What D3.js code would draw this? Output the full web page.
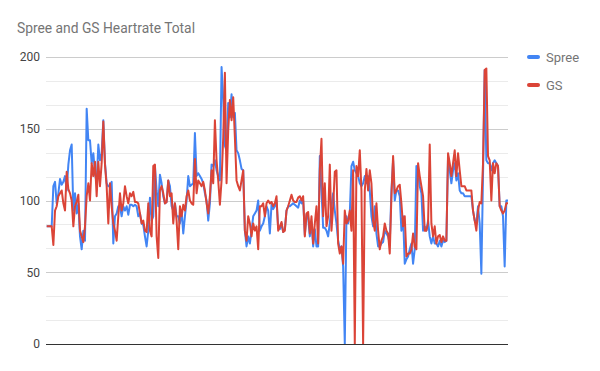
<!DOCTYPE html>
<html><head><meta charset="utf-8">
<script src="https://cdn.jsdelivr.net/npm/d3@7"></script>
<style>body{margin:0;background:#fff}svg{display:block;font-family:Roboto,Arial,sans-serif}</style>
</head><body><svg id="c" width="600" height="371"></svg>
<script>
const title = "Spree and GS Heartrate Total";
const seriesNames = ["Spree", "GS"];
const yTicks = [0, 50, 100, 150, 200];

const spree = [
82,82,82,82,110,113,98,105,115,111,113,117,107,125,135,139,93,105,91,98,75,66,79,72,164,142,142,126,133,119,112,139,128,133,156,126,112,110,110,113,70,89,91,96,96,89,96,93,96,90,97,97,96,97,96,89,91,84,83,75,68,79,102,86,89,124,107,96,
118,112,103,98,99,114,110,96,93,98,89,89,84,93,77,89,100,117,110,111,112,147,117,119,117,115,112,105,100,86,98,125,124,128,121,117,114,193,170,138,135,168,158,174,158,161,135,133,128,122,121,79,68,75,70,79,89,91,93,100,79,82,84,89,96,93,77,
97,94,96,100,81,80,84,78,80,93,96,96,97,98,97,96,95,100,98,100,76,90,88,75,85,68,80,68,68,131,107,81,81,79,75,84,96,105,93,84,72,66,68,54,0,89,84,91,124,127,121,119,117,112,110,112,117,112,117,107,89,82,96,77,68,68,
70,71,79,77,75,70,107,128,100,107,107,103,79,89,56,59,61,66,70,56,66,124,121,110,105,79,82,79,86,75,70,75,70,70,68,72,68,72,71,72,131,121,112,121,126,114,119,107,105,105,103,103,103,103,103,93,86,84,96,84,49,117,191,128,126,126,121,126,128,126,124,96,96,89,54,100,100
];
const gs = [
82,82,82,82,69,93,96,103,105,107,98,93,120,108,105,100,82,96,99,104,79,75,71,82,103,112,100,126,117,127,103,127,110,126,155,125,110,84,112,96,84,79,72,89,105,93,98,110,103,98,105,103,106,99,99,98,91,84,86,79,78,98,79,75,124,125,75,60,
107,110,105,98,99,114,103,105,84,98,86,66,96,89,97,93,103,107,100,98,97,129,105,114,112,110,113,107,98,91,103,121,112,156,128,114,97,114,144,189,112,149,170,156,172,144,114,110,107,114,121,79,72,89,84,75,84,79,82,66,96,96,98,89,98,100,98,
99,96,98,103,79,82,85,78,79,93,96,100,104,100,99,99,102,103,100,103,75,91,92,77,89,70,84,96,70,121,143,89,112,82,89,125,79,96,120,121,70,63,68,56,93,84,86,93,79,121,0,124,117,135,107,0,107,122,107,121,112,86,79,98,79,66,
72,75,84,79,77,63,103,131,105,107,110,111,98,82,89,61,63,63,66,77,68,66,126,117,110,103,79,79,84,139,84,75,82,70,75,76,71,75,72,72,133,126,117,126,135,117,133,121,110,110,110,107,107,107,107,93,86,79,93,99,98,126,191,192,131,128,100,126,119,126,124,96,93,91,93,98,98
];
const colors = ["#4285F4", "#DB4437"];

const svg = d3.select("#c");
const L = 46, R = 508, T = 57, B = 344;
const n = Math.min(spree.length, gs.length);
const idx = d3.range(n);
const x = d3.scalePoint().domain(idx).range([L + 0.7, R]);
const y = d3.scaleLinear().domain([0, 200]).range([B, T]);

const minor = d3.range(0, 201, 200 / 12);
svg.append("g").selectAll("line").data(minor).join("line")
  .attr("x1", L).attr("x2", R)
  .attr("y1", d => Math.round(y(d)) + 0.5).attr("y2", d => Math.round(y(d)) + 0.5)
  .attr("stroke", d => yTicks.some(t => Math.abs(t - d) < 0.01) ? "#cccccc" : "#ebebeb")
  .attr("stroke-width", 1);

const yAxis = d3.axisLeft(y).tickValues(yTicks).tickSize(0).tickPadding(6);
const ga = svg.append("g").attr("transform", `translate(${L},0)`).call(yAxis);
ga.select(".domain").remove();
ga.selectAll("text").attr("font-size", 12).attr("fill", "#444").attr("font-family", "Roboto, Arial, sans-serif");

const line = d3.line().x((d, i) => x(i)).y(d => y(d));
[spree, gs].forEach((s, k) => {
  svg.append("path").datum(s.slice(0, n)).attr("d", line)
    .attr("fill", "none").attr("stroke", colors[k]).attr("stroke-width", 2)
    .attr("stroke-linejoin", "round");
});

svg.append("line").attr("x1", L).attr("x2", R).attr("y1", B + 0.5).attr("y2", B + 0.5)
  .attr("stroke", "#333").attr("stroke-width", 1);

svg.append("text").attr("x", 17).attr("y", 33).text(title)
  .attr("font-size", 15).attr("textLength", 178).attr("lengthAdjust", "spacingAndGlyphs")
  .attr("fill", "#757575");

const lg = svg.append("g");
seriesNames.forEach((name, k) => {
  const yy = 57 + k * 28;
  lg.append("line").attr("x1", 529).attr("x2", 538).attr("y1", yy).attr("y2", yy)
    .attr("stroke", colors[k]).attr("stroke-width", 4).attr("stroke-linecap", "round");
  lg.append("text").attr("x", 546).attr("y", yy + 5).text(name)
    .attr("font-size", 13).attr("fill", "#757575");
});
</script></body></html>
